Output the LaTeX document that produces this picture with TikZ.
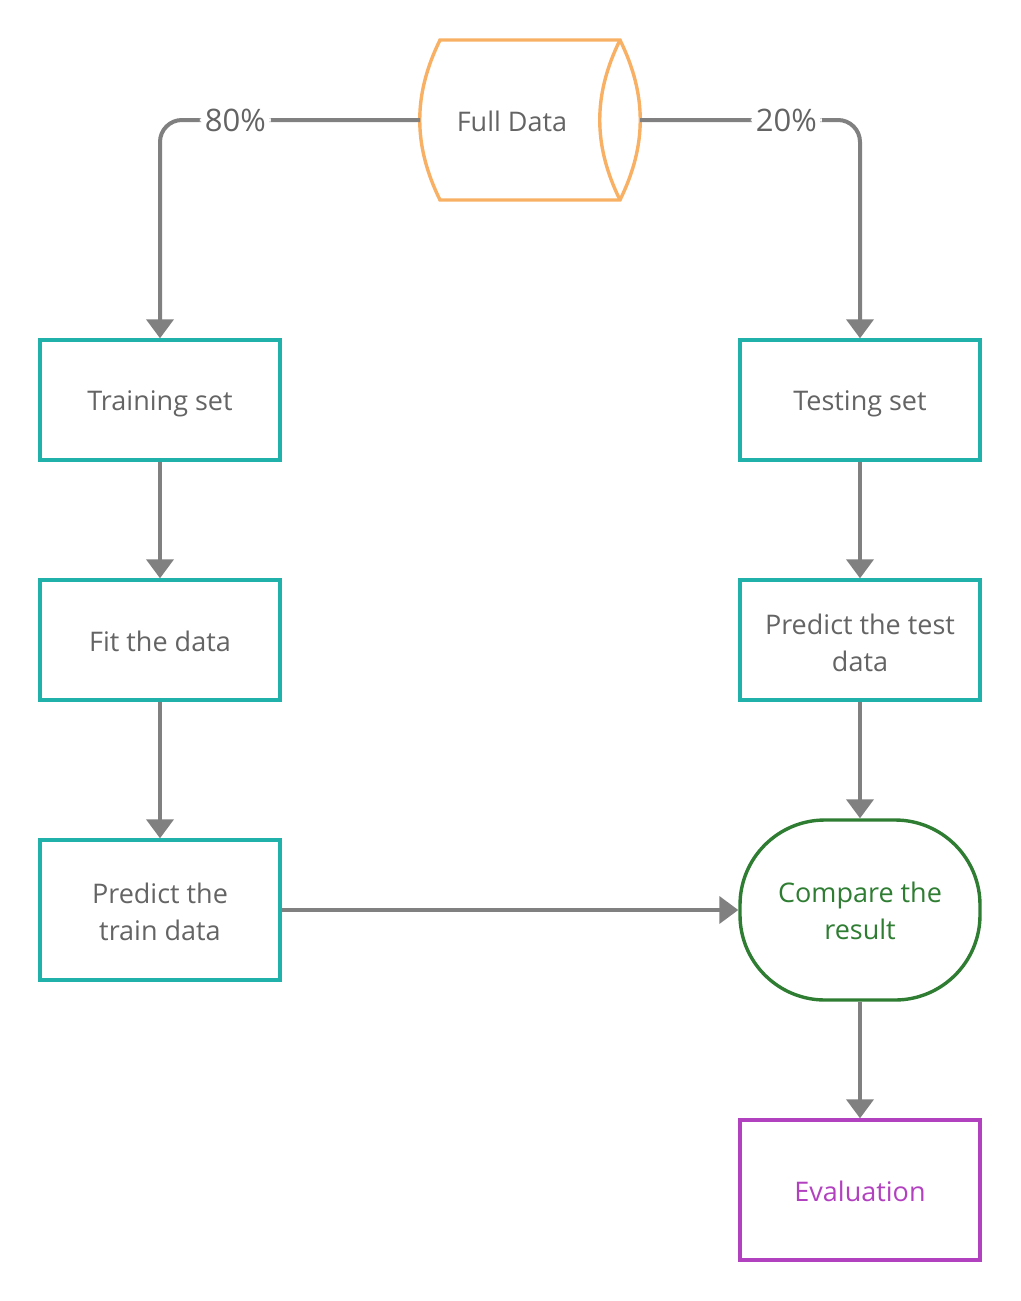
\documentclass[tikz,border=0pt]{standalone}
\usepackage{fontspec}
\setmainfont{Open Sans}
\usetikzlibrary{arrows.meta}
\definecolor{teal1}{RGB}{32,178,170}
\definecolor{orng}{RGB}{248,176,100}
\definecolor{grn}{RGB}{46,125,50}
\definecolor{purp}{RGB}{178,65,192}
\definecolor{txt}{RGB}{100,100,100}
\definecolor{conn}{RGB}{128,128,128}
\begin{document}
\begin{tikzpicture}[x=1pt,y=-1pt,
  boxst/.style={draw=teal1,line width=3.4pt,minimum width=240pt,minimum height=120pt,inner sep=0pt},
  txtst/.style={inner sep=0pt,text=txt,font=\fontsize{27}{37}\selectfont,align=center},
  conn/.style={draw=conn,line width=4pt,-{Triangle[width=27pt,length=19pt]}},
  pct/.style={fill=white,text=txt,font=\fontsize{31}{36}\selectfont,inner sep=5pt}]
\useasboundingbox (0,0) rectangle (1020,1301);
% cylinder
\draw[orng,line width=3.4pt] (440,40) -- (620,40) .. controls (647,95) and (647,145) .. (620,200) -- (440,200) .. controls (413,145) and (413,95) .. (440,40) -- cycle;
\draw[orng,line width=3.4pt] (620,40) .. controls (593,95) and (593,145) .. (620,200);
\node[txtst] (full) at (512,121) {Full Data};
\coordinate (fl) at (420,120);
\coordinate (fr) at (640,120);
% boxes
\node[boxst] (train) at (160,400) {};
\node[boxst] (fit) at (160,640) {};
\node[boxst,minimum height=140pt] (ptrain) at (160,910) {};
\node[boxst] (test) at (860,400) {};
\node[boxst] (ptest) at (860,640) {};
\node[boxst,draw=grn,minimum height=180pt,rounded corners=85pt] (comp) at (860,910) {};
\node[boxst,draw=purp,minimum height=140pt] (eval) at (860,1190) {};
% texts
\node[txtst] (trainT) at ([yshift=-4pt]train.center) {Training set};
\node[txtst] (fitT) at ([yshift=-1pt]fit.center) {Fit the data};
\node[txtst] (ptrainT) at ([yshift=-2pt]ptrain.center) {Predict the\\train data};
\node[txtst] (testT) at ([yshift=-4pt]test.center) {Testing set};
\node[txtst] (ptestT) at ([yshift=-3pt]ptest.center) {Predict the test\\data};
\node[txtst,text=grn] (compT) at ([yshift=-1pt]comp.center) {Compare the\\result};
\node[txtst,text=purp] (evalT) at ([yshift=-1pt]eval.center) {Evaluation};
% connectors
\draw[conn,rounded corners=22pt] (fl) -- (train.north |- fl) node[pct,pos=0.71] {80\%} -- (train.north);
\draw[conn,rounded corners=22pt] (fr) -- (test.north |- fr) node[pct,pos=0.665] {20\%} -- (test.north);
\draw[conn] (train) -- (fit);
\draw[conn] (fit) -- (ptrain);
\draw[conn] (test) -- (ptest);
\draw[conn] (ptest) -- (comp);
\draw[conn] (ptrain) -- (comp);
\draw[conn] (comp) -- (eval);
\end{tikzpicture}
\end{document}
